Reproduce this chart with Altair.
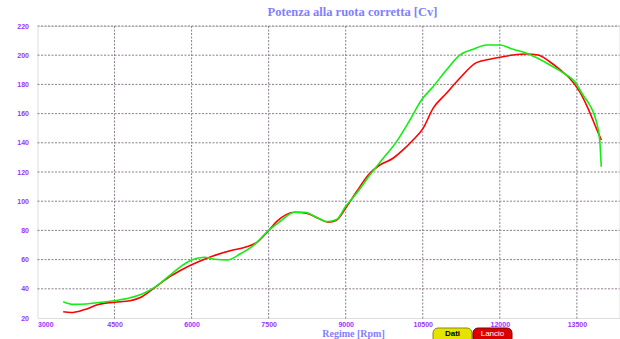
import altair as alt
import pandas as pd

# ---- data ----
rpm_green = [3500, 3700, 3950, 4200, 4500, 4800, 5100, 5300, 5545, 5800, 6000, 6250, 6450,
             6700, 6950, 7230, 7500, 7720, 8000, 8200, 8430, 8650, 8820, 9000, 9210, 9470,
             9730, 9990, 10250, 10475, 10700, 10960, 11220, 11480, 11740, 12000, 12260,
             12520, 12775, 13035, 13230, 13455, 13620, 13750, 13880, 13945, 13975]
cv_green = [31.2, 29.3, 29.6, 30.6, 31.8, 33.8, 37.5, 41.5, 48.3, 55.5, 59.7, 61.6, 60.2,
            59.8, 64.0, 70.5, 80.0, 86.0, 92.4, 92.4, 89.0, 86.0, 87.4, 96.5, 105.4, 117.9,
            129.4, 140.8, 155.6, 169.3, 178.4, 189.9, 200.1, 204.0, 207.0, 207.0, 204.0,
            201.3, 197.2, 192.1, 188.0, 181.9, 172.7, 165.9, 154.5, 141.9, 123.6]

rpm_red = [3500, 3650, 3900, 4200, 4500, 4800, 5000, 5250, 5560, 5800, 6000, 6300, 6750,
           7070, 7265, 7490, 7654, 8010, 8237, 8463, 8657, 8821, 9016, 9210, 9469, 9664,
           9922, 10116, 10311, 10506, 10700, 10961, 11220, 11544, 11803, 12000, 12259,
           12518, 12744, 12971, 13165, 13360, 13554, 13716, 13879, 13976]
cv_red = [24.3, 23.8, 25.6, 29.4, 30.8, 31.8, 34.0, 40.0, 48.0, 52.9, 56.5, 61.0, 66.0,
          68.8, 71.6, 79.5, 86.0, 92.4, 91.7, 88.3, 85.6, 87.0, 96.2, 106.5, 119.1, 124.8,
          129.4, 135.1, 141.9, 149.9, 163.6, 173.9, 184.2, 194.9, 197.2, 198.6, 200.1,
          200.8, 200.1, 195.5, 190.3, 184.2, 175.0, 163.6, 149.9, 141.9]

x_ticks = [3000, 4500, 6000, 7500, 9000, 10500, 12000, 13500]
y_ticks = [20, 40, 60, 80, 100, 120, 140, 160, 180, 200, 220]

title_text = "Potenza alla ruota corretta [Cv]"
x_title = "Regime [Rpm]"
buttons = ["Dati", "Lancio"]

# ---- layout ----
W, H = 582, 292
LEFT, TOP = 37.5, 26
LABEL_COLOR = "#9933ff"
TITLE_COLOR = "#7f7fff"
GRID_COLOR = "#8c7c8c"

xscale = alt.Scale(domain=[3000, 14330], nice=False, zero=False)
yscale = alt.Scale(domain=[20, 220], nice=False, zero=False)

x_axis = alt.Axis(
    values=x_ticks, format="d", title=x_title, grid=False, domain=False, ticks=False,
    labelFont="Liberation Sans", labelFontSize=7, labelFontWeight="bold",
    labelColor=LABEL_COLOR, labelPadding=2, labelFlush=True,
    titleFont="Liberation Serif", titleFontSize=10, titleFontWeight="bold",
    titleColor=TITLE_COLOR, titleX=353 - LEFT, titleY=15, titleBaseline="middle",
)
y_axis = alt.Axis(
    values=y_ticks, format="d", title=None, grid=False, domain=False, ticks=False,
    labelFont="Liberation Sans", labelFontSize=7, labelFontWeight="bold",
    labelColor=LABEL_COLOR, labelPadding=9, labelFlush=False,
)

df_g = pd.DataFrame({"rpm": rpm_green, "cv": cv_green})
df_r = pd.DataFrame({"rpm": rpm_red, "cv": cv_red})
one = pd.DataFrame({"a": [0]})

red = alt.Chart(df_r).mark_line(color="#ff0000", strokeWidth=1.6, interpolate="monotone").encode(
    x=alt.X("rpm:Q", scale=xscale, axis=x_axis),
    y=alt.Y("cv:Q", scale=yscale, axis=y_axis),
)
green = alt.Chart(df_g).mark_line(color="#11ee11", strokeWidth=1.6, interpolate="monotone").encode(
    x=alt.X("rpm:Q", scale=xscale, axis=x_axis),
    y=alt.Y("cv:Q", scale=yscale, axis=y_axis),
)

grid_h = alt.Chart(pd.DataFrame({"cv": y_ticks[1:]})).mark_rule(
    color=GRID_COLOR, strokeDash=[2, 1.5], strokeWidth=1
).encode(
    y=alt.Y("cv:Q", scale=yscale, axis=y_axis),
    x=alt.value(0), x2=alt.value(W),
)
grid_v = alt.Chart(pd.DataFrame({"rpm": x_ticks[1:]})).mark_rule(
    color=GRID_COLOR, strokeDash=[2, 1.5], strokeWidth=1
).encode(
    x=alt.X("rpm:Q", scale=xscale, axis=x_axis),
    y=alt.value(0), y2=alt.value(H + 2),
)

btn1 = alt.Chart(one).mark_rect(color="#e4e400", stroke="#8a8a00", strokeWidth=1, cornerRadius=5).encode(
    x=alt.value(433 - LEFT), x2=alt.value(472 - LEFT), y=alt.value(328 - TOP), y2=alt.value(343 - TOP)
)
btn2 = alt.Chart(one).mark_rect(color="#dd0000", stroke="#800000", strokeWidth=1, cornerRadius=5).encode(
    x=alt.value(473 - LEFT), x2=alt.value(512 - LEFT), y=alt.value(328 - TOP), y2=alt.value(343 - TOP)
)
t1 = alt.Chart(one).mark_text(font="Liberation Sans", fontSize=8, fontWeight="bold", color="#000000").encode(
    x=alt.value(452.5 - LEFT), y=alt.value(334 - TOP), text=alt.value(buttons[0])
)
t2 = alt.Chart(one).mark_text(font="Liberation Sans", fontSize=8, color="#ffffff").encode(
    x=alt.value(492.5 - LEFT), y=alt.value(334 - TOP), text=alt.value(buttons[1])
)

chart = alt.layer(
    grid_h, grid_v, red, green, btn1, btn2, t1, t2
).properties(
    width=W, height=H,
    autosize=alt.AutoSizeParams(type="none"),
    padding={"left": LEFT, "top": TOP, "right": 0, "bottom": 21},
    title=alt.TitleParams(
        title_text, font="Liberation Serif", fontSize=12.5, fontWeight="bold",
        color=TITLE_COLOR, anchor="middle", dx=24, offset=4,
    ),
).configure_view(stroke=None).configure(background="#ffffff")

chart.save("out.html", embed_options={"renderer": "svg", "actions": False})
